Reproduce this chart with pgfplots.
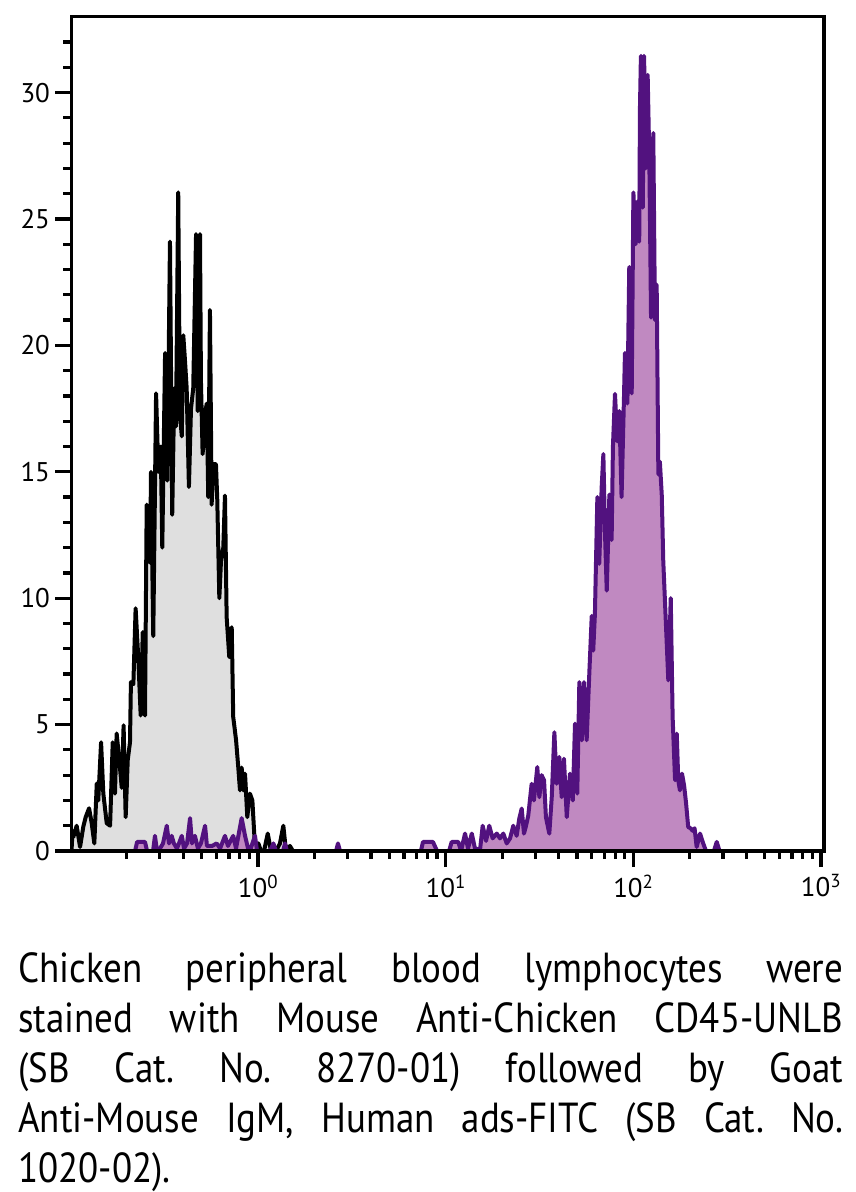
\documentclass[border=0pt]{standalone}
\usepackage{fontspec}
\setmainfont{PT Sans}
\newfontfamily\capfont[FakeStretch=0.88]{PT Sans}
\usepackage{pgfplots}
\pgfplotsset{compat=1.18}
\definecolor{grayfill}{HTML}{DFDFDF}
\definecolor{pinkfill}{HTML}{C089C1}
\definecolor{purpleline}{HTML}{52127F}
\frenchspacing
\begin{document}
\begin{tikzpicture}
\useasboundingbox (0,0) rectangle (856pt,-1192pt);
\begin{axis}[
  at={(71.5pt,-851pt)}, anchor=south west,
  scale only axis, width=752.5pt, height=834.3pt,
  xmin=-0.9936, xmax=3.0155, ymin=0, ymax=33,
  axis on top,
  axis line style={line width=3.4pt, line cap=rect},
  every tick/.style={line width=3.2pt, black},
  tick align=outside,
  major tick length=16pt, minor tick length=8pt,
  xtick pos=bottom, ytick pos=left,
  xtick={0,1,2,3},
  xticklabels={10\textsuperscript{0},10\textsuperscript{1},10\textsuperscript{2},10\textsuperscript{3}},
  minor xtick={-0.699,-0.523,-0.398,-0.301,-0.222,-0.155,-0.097,-0.046,
               0.301,0.477,0.602,0.699,0.778,0.845,0.903,0.954,
               1.301,1.477,1.602,1.699,1.778,1.845,1.903,1.954,
               2.301,2.477,2.602,2.699,2.778,2.845,2.903,2.954},
  ytick={0,5,10,15,20,25,30},
  minor ytick={1,2,3,4,6,7,8,9,11,12,13,14,16,17,18,19,21,22,23,24,26,27,28,29,31,32},
  /pgf/number format/assume math mode=true,
  tick label style={font=\fontsize{27}{27}\selectfont},
  xticklabel style={yshift=-4pt},
  yticklabel style={xshift=-2pt},
]
\addplot[draw=black, line width=4pt, line join=round, fill=grayfill] coordinates {
(-0.9936,0) (-0.988,0.8) (-0.984,0.55) (-0.966,1.0) (-0.948,0.16) (-0.931,0.95) (-0.918,1.34) (-0.900,1.69) (-0.886,1.1) (-0.872,0.3) (-0.859,2.67) (-0.851,2.0) (-0.836,4.3) (-0.824,2.27) (-0.806,1.1) (-0.788,1.0) (-0.774,4.3) (-0.762,2.27) (-0.753,4.65) (-0.739,3.6) (-0.726,2.5) (-0.716,4.97) (-0.705,1.34) (-0.694,3.6) (-0.682,4.3) (-0.677,6.68) (-0.664,6.6) (-0.652,9.6) (-0.638,7.67) (-0.625,5.36) (-0.614,8.66) (-0.602,5.36) (-0.593,13.7) (-0.575,11.4) (-0.570,15.0) (-0.558,8.5) (-0.543,18.1) (-0.531,15.0) (-0.518,16.0) (-0.510,12.0) (-0.495,19.7) (-0.483,14.65) (-0.469,24.1) (-0.457,13.3) (-0.446,18.3) (-0.437,16.8) (-0.425,26.05) (-0.416,17.3) (-0.406,16.4) (-0.398,20.4) (-0.389,19.4) (-0.380,18.3) (-0.368,14.4) (-0.357,17.5) (-0.345,18.3) (-0.330,24.4) (-0.321,17.4) (-0.309,24.4) (-0.304,18.6) (-0.295,15.7) (-0.282,17.3) (-0.273,17.7) (-0.265,14.0) (-0.256,21.4) (-0.247,13.7) (-0.238,15.3) (-0.224,15.3) (-0.217,13.9) (-0.206,10.0) (-0.197,11.5) (-0.185,12.0) (-0.176,14.06) (-0.167,9.25) (-0.153,7.67) (-0.140,8.85) (-0.132,5.3) (-0.117,4.4) (-0.105,3.3) (-0.096,2.4) (-0.087,3.3) (-0.078,2.4) (-0.069,3.06) (-0.057,1.34) (-0.043,2.27) (-0.030,2.0) (-0.016,0.16) (0.002,0.3) (0.016,0) (0.032,0) (0.052,0.69) (0.069,0) (0.096,0) (0.117,0.3) (0.135,1.0) (0.149,0) (0.170,0.2) (0.186,0)
} \closedcycle;
\addplot[draw=purpleline, line width=4pt, line join=round, fill=pinkfill] coordinates {
(-0.655,0) (-0.644,0.36) (-0.602,0.36) (-0.591,0) (-0.559,0) (-0.549,0.6) (-0.538,0) (-0.522,0.1) (-0.506,0.3) (-0.486,1.0) (-0.474,0.3) (-0.460,0.6) (-0.448,0.3) (-0.432,0.1) (-0.421,0.3) (-0.406,0.6) (-0.394,0.1) (-0.378,0.3) (-0.362,1.3) (-0.352,0.3) (-0.336,0.6) (-0.320,0.1) (-0.304,0.3) (-0.282,1.0) (-0.272,0.2) (-0.245,0.2) (-0.220,0.3) (-0.202,0.1) (-0.176,0.6) (-0.160,0.2) (-0.132,0.6) (-0.117,0.1) (-0.087,1.3) (-0.069,0.6) (-0.053,0.1) (-0.043,0) (-0.016,0.6) (-0.005,0) (0.064,0) (0.082,0.3) (0.096,0) (0.133,0) (0.144,0.3) (0.154,0) (0.416,0) (0.426,0.3) (0.437,0) (0.868,0)
(0.879,0.36) (0.932,0.36) (0.954,0) (1.018,0) (1.032,0.36) (1.067,0.36) (1.082,0) (1.103,0.69) (1.119,0.1) (1.139,0.69) (1.156,0.1) (1.183,0.05) (1.197,1.0) (1.215,0.4) (1.232,1.0) (1.250,0.5) (1.272,0.69) (1.289,0.5) (1.307,0.69) (1.325,0.3) (1.343,0.5) (1.360,1.0) (1.378,0.6) (1.392,1.28) (1.405,1.68) (1.417,0.69) (1.428,1.0) (1.440,1.41) (1.458,2.66) (1.470,2.0) (1.488,3.32) (1.499,2.13) (1.511,3.0) (1.524,2.8) (1.534,1.34) (1.552,0.69) (1.565,2.13) (1.579,4.7) (1.591,2.66) (1.605,3.72) (1.618,2.13) (1.630,3.65) (1.645,1.34) (1.662,3.06) (1.677,2.0) (1.689,5.04) (1.701,2.27) (1.712,6.68) (1.725,4.38) (1.737,6.68) (1.751,4.38) (1.765,7.0) (1.778,9.3) (1.786,7.93) (1.795,9.38) (1.808,14.0) (1.818,11.36) (1.831,14.4) (1.840,15.7) (1.849,12.5) (1.858,10.3) (1.872,14.1) (1.884,12.3) (1.891,16.0) (1.902,18.08) (1.914,16.2) (1.925,17.4) (1.937,14.0) (1.950,18.0) (1.955,19.7) (1.968,17.7) (1.978,23.1) (1.991,18.1) (2.000,26.05) (2.012,24.0) (2.023,25.7) (2.031,24.1) (2.035,29.4) (2.040,31.45) (2.050,25.45) (2.057,31.45) (2.066,27.0) (2.076,30.7) (2.085,27.3) (2.094,21.1) (2.106,28.4) (2.115,21.0) (2.124,22.4) (2.133,14.9) (2.141,15.4) (2.151,14.1) (2.159,11.5) (2.174,8.85) (2.186,6.75) (2.199,10.0) (2.209,5.3) (2.222,2.8) (2.231,4.64) (2.239,2.8) (2.248,2.4) (2.259,3.06) (2.270,2.6) (2.280,1.94) (2.292,0.95) (2.304,0.9) (2.316,0.8) (2.326,0.9) (2.337,0.16) (2.355,0.69) (2.372,0.3) (2.387,0) (2.429,0) (2.444,0.36) (2.459,0)
} \closedcycle;
\end{axis}
\begin{scope}[every node/.style={anchor=base west, inner sep=0pt, font=\capfont\fontsize{42}{50}\selectfont}]
\node at (18pt,-982pt) {\makebox[825pt][s]{Chicken peripheral blood lymphocytes were}};
\node at (18pt,-1032pt) {\makebox[825pt][s]{stained with Mouse Anti-Chicken CD45-UNLB}};
\node at (18pt,-1082pt) {\makebox[825pt][s]{(SB Cat. No. 8270-01) followed by Goat}};
\node at (18pt,-1132pt) {\makebox[825pt][s]{Anti-Mouse IgM, Human ads-FITC (SB Cat. No.}};
\node at (18pt,-1182pt) {1020-02).};
\end{scope}
\end{tikzpicture}
\end{document}
